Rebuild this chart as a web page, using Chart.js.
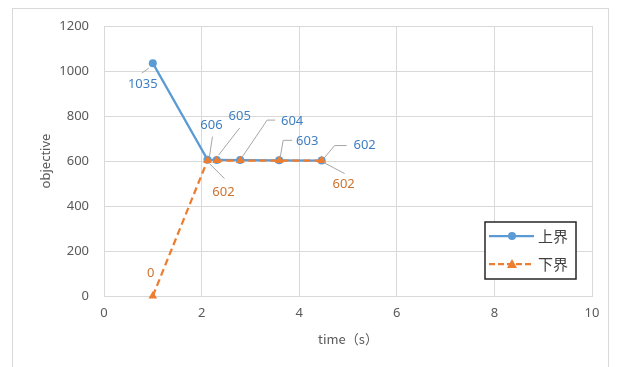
<!DOCTYPE html>
<html lang="zh">
<head>
<meta charset="utf-8">
<title>objective vs time</title>
<script src="https://cdn.jsdelivr.net/npm/chart.js@4.4.1/dist/chart.umd.min.js"></script>
<style>
  html, body { margin: 0; padding: 0; background: #fff; }
  body { width: 621px; height: 367px; position: relative; overflow: hidden; }
  .frame {
    position: absolute; left: 12px; top: 8px; width: 597px; height: 370px;
    border: 1px solid #d9d9d9; box-sizing: border-box;
  }
  .chart-box { position: absolute; left: 0; top: 0; width: 621px; height: 367px; }
</style>
</head>
<body>
<div class="frame"></div>
<div class="chart-box"><canvas id="bounds-chart"></canvas></div>
<script>
/* 上界 / 下界 收敛图 */
(function () {
  const TIMES = [1, 2.12, 2.31, 2.79, 3.59, 4.46];
  const UPPER = [1035, 606, 605, 604, 603, 602];
  const LOWER = [0, 602, 602, 602, 602, 602];
  const SERIES_NAMES = ["上界", "下界"];
  const X_TICKS = [0, 2, 4, 6, 8, 10];
  const Y_TICKS = [0, 200, 400, 600, 800, 1000, 1200];

  const BLUE = "#5b9bd5";
  const ORANGE = "#ed7d31";
  const BLUE_TEXT = "#3f7fc1";
  const ORANGE_TEXT = "#cf7330";
  const AXIS_TEXT = "#595959";
  const GRID = "#d9d9d9";
  const FONT = "'Noto Sans', 'Liberation Sans', sans-serif";
  const CJK_FONT = "'Noto Sans CJK SC', 'Noto Sans', sans-serif";

  // label placement, relative to the point (text centre + leader polyline)
  const UPPER_LABELS = [
    { dx: -10, dy: 21, leader: [[-11, 10], [-4, 5]] },
    { dx: 4, dy: -34, leader: [[5, -23], [2, -3]] },
    { dx: 23, dy: -44, leader: [[23, -32], [2, -5]] },
    { dx: 52, dy: -39, leader: [[35, -40], [27, -40], [2, -3]] },
    { dx: 28, dy: -19, leader: [[13, -20], [4, -20], [1, -3]] },
    { dx: 43, dy: -15, leader: [[25, -15], [13, -15], [2, -2]] },
  ];
  const LOWER_LABELS = [
    { dx: -2, dy: -23, leader: null },
    { dx: 16, dy: 32, leader: [[17, 18], [2, 3]] },
    null,
    null,
    null,
    { dx: 22, dy: 24, leader: [[23, 13], [2, 2]] },
  ];

  const toPoints = (ys) => TIMES.map((t, i) => ({ x: t, y: ys[i] }));

  const dataLabels = {
    id: "dataLabels",
    afterDatasetsDraw(chart) {
      const ctx = chart.ctx;
      const sets = [
        { meta: chart.getDatasetMeta(0), values: UPPER, cfg: UPPER_LABELS, color: BLUE_TEXT },
        { meta: chart.getDatasetMeta(1), values: LOWER, cfg: LOWER_LABELS, color: ORANGE_TEXT },
      ];
      ctx.save();
      ctx.font = "13px " + FONT;
      ctx.textAlign = "center";
      ctx.textBaseline = "middle";
      sets.forEach((set) => {
        set.meta.data.forEach((pt, i) => {
          const cfg = set.cfg[i];
          if (!cfg) {
            return;
          }
          if (cfg.leader) {
            ctx.strokeStyle = "#a6a6a6";
            ctx.lineWidth = 1;
            ctx.beginPath();
            cfg.leader.forEach(([lx, ly], k) => {
              if (k === 0) ctx.moveTo(pt.x + lx, pt.y + ly);
              else ctx.lineTo(pt.x + lx, pt.y + ly);
            });
            ctx.stroke();
          }
          ctx.fillStyle = set.color;
          ctx.fillText(String(set.values[i]), pt.x + cfg.dx, pt.y + cfg.dy);
        });
      });
      ctx.restore();
    },
  };

  const boxLegend = {
    id: "boxLegend",
    afterDraw(chart) {
      const ctx = chart.ctx;
      const area = chart.chartArea;
      const w = 91;
      const h = 57;
      const left = area.right - 16 - w;
      const top = area.bottom - 17 - h;
      ctx.save();
      ctx.fillStyle = "#fff";
      ctx.fillRect(left, top, w, h);
      ctx.strokeStyle = "#262626";
      ctx.lineWidth = 1.5;
      ctx.strokeRect(left, top, w, h);

      const rows = [
        { y: top + 14, color: BLUE, dash: [], marker: "circle" },
        { y: top + 42, color: ORANGE, dash: [6, 3], marker: "triangle" },
      ];
      rows.forEach((row, i) => {
        ctx.strokeStyle = row.color;
        ctx.lineWidth = 2.25;
        ctx.setLineDash(row.dash);
        ctx.beginPath();
        ctx.moveTo(left + 4, row.y);
        ctx.lineTo(left + 49, row.y);
        ctx.stroke();
        ctx.setLineDash([]);
        ctx.fillStyle = row.color;
        const cx = left + 27;
        ctx.beginPath();
        if (row.marker === "circle") {
          ctx.arc(cx, row.y, 4, 0, Math.PI * 2);
        } else {
          ctx.moveTo(cx, row.y - 5);
          ctx.lineTo(cx + 5, row.y + 4);
          ctx.lineTo(cx - 5, row.y + 4);
          ctx.closePath();
        }
        ctx.fill();
        ctx.fillStyle = "#404040";
        ctx.font = "15px " + CJK_FONT;
        ctx.textAlign = "left";
        ctx.textBaseline = "middle";
        ctx.fillText(SERIES_NAMES[i], left + 53, row.y);
      });
      ctx.restore();
    },
  };

  document.addEventListener("DOMContentLoaded", () => {
    const canvasEl = document.getElementById("bounds-chart");
    if (!canvasEl || typeof Chart === "undefined") {
      return;
    }

    new Chart(canvasEl.getContext("2d"), {
      type: "scatter",
      data: {
        datasets: [
          {
            label: SERIES_NAMES[0],
            data: toPoints(UPPER),
            showLine: true,
            borderColor: BLUE,
            backgroundColor: BLUE,
            borderWidth: 2.25,
            pointStyle: "circle",
            pointRadius: 4,
            pointBorderWidth: 0,
            clip: false,
            order: 1,
          },
          {
            label: SERIES_NAMES[1],
            data: toPoints(LOWER),
            showLine: true,
            borderColor: ORANGE,
            backgroundColor: ORANGE,
            borderWidth: 2.25,
            borderDash: [7, 4],
            pointStyle: "triangle",
            pointRadius: 5,
            pointBorderWidth: 0,
            clip: false,
            order: 0,
          },
        ],
      },
      options: {
        responsive: true,
        maintainAspectRatio: false,
        animation: false,
        layout: { padding: { left: 0, top: 26, right: 29, bottom: 0 } },
        plugins: {
          legend: { display: false },
          tooltip: { enabled: false },
        },
        scales: {
          x: {
            type: "linear",
            min: X_TICKS[0],
            max: X_TICKS[X_TICKS.length - 1],
            afterBuildTicks: (scale) => {
              scale.ticks = X_TICKS.map((v) => ({ value: v }));
            },
            afterFit: (scale) => {
              scale.height = 71;
            },
            grid: { color: GRID, drawTicks: false },
            border: { color: GRID },
            ticks: {
              color: AXIS_TEXT,
              font: { size: 13, family: FONT },
              padding: 9,
              callback: (value) => String(value),
            },
            title: {
              display: true,
              text: "time（s）",
              color: AXIS_TEXT,
              font: { size: 13, family: CJK_FONT },
              padding: { top: 0, bottom: 20 },
            },
          },
          y: {
            type: "linear",
            min: Y_TICKS[0],
            max: Y_TICKS[Y_TICKS.length - 1],
            afterBuildTicks: (scale) => {
              scale.ticks = Y_TICKS.map((v) => ({ value: v }));
            },
            afterFit: (scale) => {
              scale.width = 104;
            },
            grid: { color: GRID, drawTicks: false },
            border: { color: GRID },
            ticks: {
              color: AXIS_TEXT,
              font: { size: 13, family: FONT },
              padding: 15,
              callback: (value) => String(value),
            },
            title: {
              display: true,
              text: "objective",
              color: AXIS_TEXT,
              font: { size: 13, family: FONT },
              padding: { top: 38, bottom: 0 },
            },
          },
        },
      },
      plugins: [dataLabels, boxLegend],
    });
  });
})();
</script>
</body>
</html>
